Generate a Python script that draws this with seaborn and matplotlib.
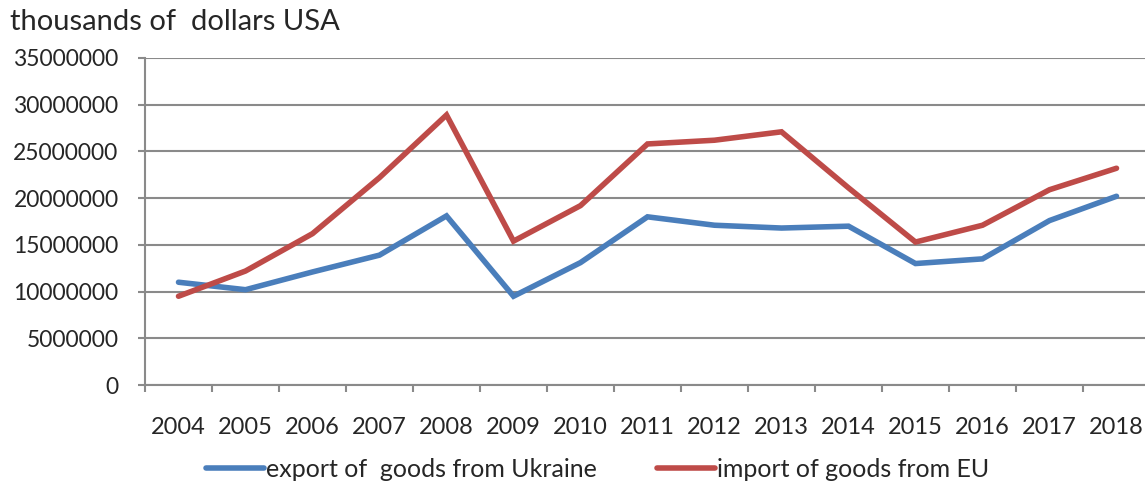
import matplotlib
matplotlib.use("Agg")
import matplotlib.pyplot as plt
import seaborn as sns
import pandas as pd
import numpy as np
from matplotlib.ticker import FixedLocator
from matplotlib.lines import Line2D

years = ["2004", "2005", "2006", "2007", "2008", "2009", "2010", "2011",
         "2012", "2013", "2014", "2015", "2016", "2017", "2018"]
export_ua = [11000000, 10200000, 12100000, 13900000, 18100000, 9500000, 13100000,
             18000000, 17100000, 16800000, 17000000, 13000000, 13500000, 17600000, 20200000]
import_eu = [9500000, 12200000, 16200000, 22200000, 28900000, 15400000, 19200000,
             25800000, 26200000, 27100000, 21100000, 15300000, 17100000, 20900000, 23200000]
series_names = ["export of  goods from Ukraine", "import of goods from EU"]
y_ticks = [0, 5000000, 10000000, 15000000, 20000000, 25000000, 30000000, 35000000]
y_title = "thousands of  dollars USA"

df = pd.DataFrame({
    "pos": list(range(len(years))) * 2,
    "value": export_ua + import_eu,
    "series": [series_names[0]] * len(years) + [series_names[1]] * len(years),
})

sns.set_style("white")
plt.rcParams["font.family"] = ["Lato", "DejaVu Sans"]
text_color = "#262626"
grid_color = "#8a8a8a"
colors = ["#4A7EBB", "#BE4B48"]
lw = 4.0

fig = plt.figure(figsize=(11.45, 4.86), dpi=100)
ax = fig.add_axes([145 / 1145, (486 - 385) / 486, 1005 / 1145, (385 - 58) / 486])

sns.lineplot(data=df, x="pos", y="value", hue="series",
             palette=colors, linewidth=lw, ax=ax, legend=False,
             solid_capstyle="round", solid_joinstyle="miter")

ax.set_xlim(-0.5, len(years) - 0.5)
ax.set_ylim(0, 35000000)
ax.set_yticks(y_ticks)
ax.set_yticklabels([str(v) for v in y_ticks])
ax.set_xticks(range(len(years)))
ax.set_xticklabels(years)
ax.xaxis.set_minor_locator(FixedLocator(np.arange(-0.5, len(years), 1.0)))
ax.set_xlabel("")
ax.set_ylabel("")

ax.yaxis.grid(True, color=grid_color, linewidth=1.5)
ax.set_axisbelow(True)
for s in ["top", "right"]:
    ax.spines[s].set_visible(False)
for s in ["left", "bottom"]:
    ax.spines[s].set_color(grid_color)
    ax.spines[s].set_linewidth(1.5)

ax.tick_params(axis="y", which="major", direction="out", length=5, width=1.5,
               color=grid_color, pad=14, labelsize=16.5, labelcolor=text_color, left=True)
ax.tick_params(axis="x", which="major", length=0, pad=23, labelsize=17,
               labelcolor=text_color)
ax.tick_params(axis="x", which="minor", direction="out", length=5, width=1.5,
               color=grid_color, bottom=True)

fig.text(10 / 1145, 1 - 22 / 486, y_title, fontsize=21, color=text_color,
         ha="left", va="center")

handles = [Line2D([], [], color=colors[0], linewidth=lw, solid_capstyle="round"),
           Line2D([], [], color=colors[1], linewidth=lw, solid_capstyle="round")]
leg = fig.legend(handles, series_names, loc="center", bbox_to_anchor=(0.522, 1 - 469 / 486),
                 ncol=2, frameon=False, fontsize=18, handlelength=2.3,
                 handletextpad=0.1, columnspacing=2.4)
for t in leg.get_texts():
    t.set_color(text_color)

fig.savefig("out.png", dpi=100)
